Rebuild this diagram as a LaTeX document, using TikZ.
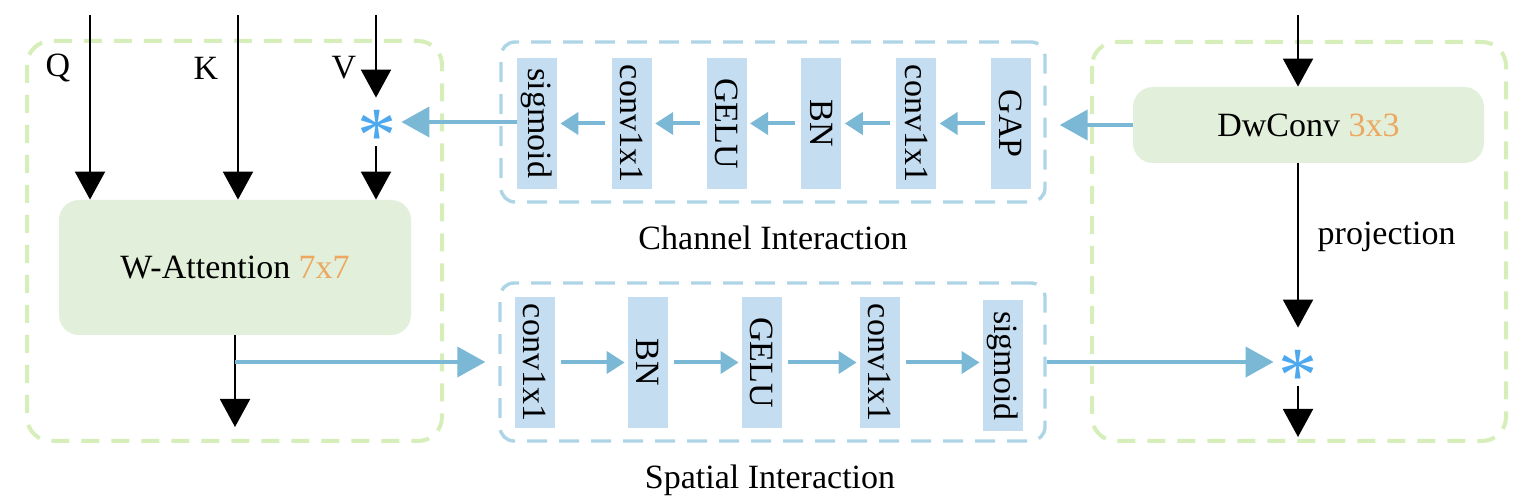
\documentclass[tikz,border=0pt]{standalone}
\usepackage{fontspec}
\setmainfont{Liberation Serif}
\usepackage{graphicx}
\usetikzlibrary{arrows.meta,positioning,calc}
\definecolor{hgGreen}{HTML}{D6EEBA}
\definecolor{hgFill}{HTML}{E2EFDA}
\definecolor{hgFrame}{HTML}{AED5E6}
\definecolor{hgBox}{HTML}{C5DDF0}
\definecolor{hgArrow}{HTML}{7AB8D5}
\definecolor{hgOrange}{HTML}{ECA860}
\definecolor{hgStar}{HTML}{4DA8EE}
\newcommand{\vtxt}[1]{\rotatebox{-90}{#1}}
\newcommand{\mulsign}{\scalebox{2.3}{\raisebox{-0.5em}[0pt][0pt]{*}}}

\begin{document}
\begin{tikzpicture}[x=0.5pt,y=-0.5pt,font=\fontsize{17}{20}\selectfont,
    grp/.style={draw=hgGreen,line width=2pt,dash pattern=on 9pt off 6pt,rounded corners=12pt},
    cgrp/.style={draw=hgFrame,line width=1.7pt,dash pattern=on 10pt off 6pt,rounded corners=7pt,
                 inner sep=0pt},
    blk/.style={fill=hgFill,rounded corners=10pt,align=center,inner sep=2pt},
    op/.style={fill=hgBox,minimum width=20pt,minimum height=65.5pt,inner sep=0pt},
    mul/.style={circle,inner sep=0pt,minimum size=24pt,text=hgStar},
    arrK/.style={-{Triangle[length=14pt,width=15pt]},line width=1pt},
    barr/.style={-{Triangle[length=14pt,width=15pt]},hgArrow,line width=2pt},
    sarr/.style={-{Triangle[length=9pt,width=11pt]},hgArrow,line width=2pt,
                 shorten <=3pt,shorten >=1.5pt}]

  \useasboundingbox (0,0) rectangle (1515,501);

  \draw[grp] (27,41) rectangle (442,441);
  \draw[grp] (1092,42) rectangle (1506,441);
  \node[cgrp,minimum width=272pt,minimum height=80pt] (chan) at (773,122) {};
  \node[cgrp,minimum width=272.5pt,minimum height=79pt] (spat) at (772.5,362) {};
  \node (chanlbl) at (773,238) {Channel Interaction};
  \node (spatlbl) at (770,480) {Spatial Interaction};

  \node (q) at (58,68) {Q};
  \node (k) at (206,68) {K};
  \node (v) at (344,68) {V};
  \coordinate (qin) at (90,15);
  \coordinate (kin) at (238,15);
  \coordinate (vin) at (376,15);
  \node[blk,minimum width=176pt,minimum height=67.5pt] (watt) at (235,267.5)
    {W-Attention \textcolor{hgOrange}{7x7}};
  \node[mul] (mulv) at (377,122) {\mulsign};
  \coordinate (wout) at (235,427);

  \node[op] (c1) at (537,123.5)   {\vtxt{sigmoid}};
  \node[op] (c2) at (631.8,123.5) {\vtxt{conv1x1}};
  \node[op] (c3) at (726.6,123.5) {\vtxt{GELU}};
  \node[op] (c4) at (821.4,123.5) {\vtxt{BN}};
  \node[op] (c5) at (916.2,123.5) {\vtxt{conv1x1}};
  \node[op] (c6) at (1011,123.5)  {\vtxt{GAP}};

  \node[op] (s1) at (535,362.5)  {\vtxt{conv1x1}};
  \node[op] (s2) at (648,362.5)  {\vtxt{BN}};
  \node[op] (s3) at (762,362.5)  {\vtxt{GELU}};
  \node[op] (s4) at (880,362.5)  {\vtxt{conv1x1}};
  \node[op] (s5) at (1003,366)   {\vtxt{sigmoid}};

  \coordinate (din) at (1298,15);
  \node[blk,minimum width=175.5pt,minimum height=38pt] (dw) at (1308.5,125)
    {DwConv \textcolor{hgOrange}{3x3}};
  \node[mul] (mulr) at (1298,362) {\mulsign};
  \coordinate (rout) at (1298,437);

  \draw[arrK] (qin) -- (qin |- watt.north);
  \draw[arrK] (kin) -- (kin |- watt.north);
  \draw[arrK] (vin) -- (vin |- mulv.north);
  \draw[arrK] (vin |- mulv.south) -- (vin |- watt.north);
  \draw[arrK] (watt.south) -- (wout);
  \draw[barr,shorten >=6.5pt] (watt.south |- spat.west) -- (spat.west);

  \draw[barr] (c1.west |- mulv) -- (mulv);
  \draw[sarr] (c2) -- (c1);
  \draw[sarr] (c3) -- (c2);
  \draw[sarr] (c4) -- (c3);
  \draw[sarr] (c5) -- (c4);
  \draw[sarr] (c6) -- (c5);
  \draw[barr,shorten >=6.5pt] (dw.west) -- (chan.east |- dw.west);

  \draw[sarr] (s1) -- (s2);
  \draw[sarr] (s2) -- (s3);
  \draw[sarr] (s3) -- (s4);
  \draw[sarr] (s4.east) -- (s4.east -| s5.west);
  \draw[barr] (spat.east) -- (mulr);

  \draw[arrK] (din) -- (din |- dw.north);
  \draw[arrK,shorten >=5pt] (din |- dw.south) -- node[pos=0.42,right,xshift=6pt] {projection} (mulr);
  \draw[arrK] (mulr) -- (rout);
\end{tikzpicture}
\end{document}
